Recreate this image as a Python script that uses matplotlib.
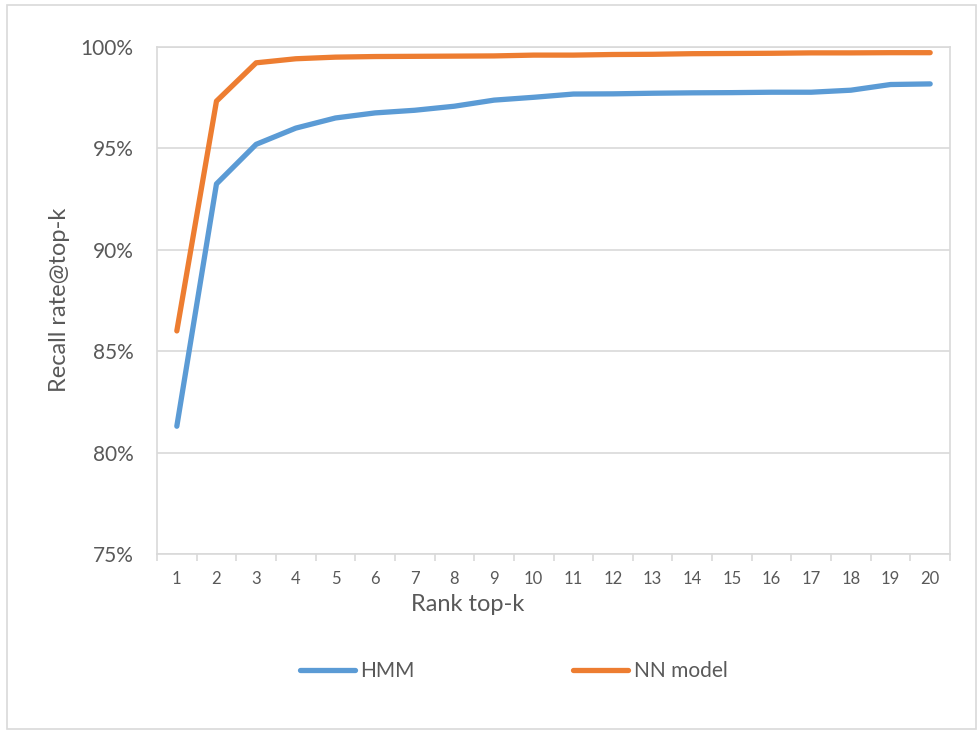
import matplotlib
matplotlib.use("Agg")
import matplotlib.pyplot as plt
from matplotlib.patches import Rectangle
from matplotlib.ticker import FuncFormatter, FixedLocator

plt.rcParams["font.family"] = ["Lato", "DejaVu Sans"]

ranks = list(range(1, 21))
hmm = [81.3, 93.25, 95.2, 96.0, 96.5, 96.75, 96.88, 97.08, 97.38, 97.52,
       97.68, 97.69, 97.72, 97.74, 97.75, 97.77, 97.77, 97.87, 98.15, 98.18]
nn_model = [86.0, 97.33, 99.22, 99.42, 99.5, 99.53, 99.54, 99.55, 99.56, 99.6,
            99.6, 99.63, 99.64, 99.67, 99.68, 99.69, 99.71, 99.71, 99.72, 99.72]
y_ticks = [75, 80, 85, 90, 95, 100]

text_col = "#595959"
grid_col = "#D9D9D9"
W, H = 977, 730

fig = plt.figure(figsize=(W / 100, H / 100), dpi=100)
ax = fig.add_axes([157 / W, 1 - 554 / H, 793 / W, 507 / H])

# outer chart frame
fig.patches.append(Rectangle((7 / W, 1 / H), 969 / W, 724 / H, transform=fig.transFigure,
                             fill=False, edgecolor=grid_col, linewidth=1.2))

l1, = ax.plot(ranks, hmm, color="#5B9BD5", lw=3.8, solid_capstyle="round",
              solid_joinstyle="round", label="HMM")
l2, = ax.plot(ranks, nn_model, color="#ED7D31", lw=3.8, solid_capstyle="round",
              solid_joinstyle="round", label="NN model")

ax.set_xlim(0.5, 20.5)
ax.set_ylim(75, 100)
ax.set_yticks(y_ticks)
ax.yaxis.set_major_formatter(FuncFormatter(lambda v, p: f"{v:.0f}%"))
ax.set_xticks(ranks)
ax.xaxis.set_minor_locator(FixedLocator([r + 0.5 for r in range(0, 21)]))
ax.grid(axis="y", color=grid_col, lw=1.2)
ax.set_axisbelow(True)
for s in ax.spines.values():
    s.set_color(grid_col)
    s.set_linewidth(1.2)

ax.tick_params(axis="y", length=0, pad=17, labelsize=15, labelcolor=text_col)
ax.tick_params(axis="x", which="major", length=0, pad=12, labelsize=12, labelcolor=text_col)
ax.tick_params(axis="x", which="minor", length=5, width=1.2, color=grid_col)

fig.text(59 / W, 1 - 300 / H, "Recall rate@top-k", rotation=90, ha="center", va="center",
         fontsize=17, color=text_col)
fig.text(468 / W, 1 - 611 / H, "Rank top-k", ha="center", va="baseline",
         fontsize=17, color=text_col)

fig.legend(handles=[l1, l2], loc="center left", bbox_to_anchor=(300 / W, 1 - 671 / H),
           ncol=2, frameon=False, fontsize=15, labelcolor=text_col, borderpad=0,
           borderaxespad=0, handlelength=2.65, handletextpad=0.25, columnspacing=7.6)

fig.savefig("out.png", dpi=100)
